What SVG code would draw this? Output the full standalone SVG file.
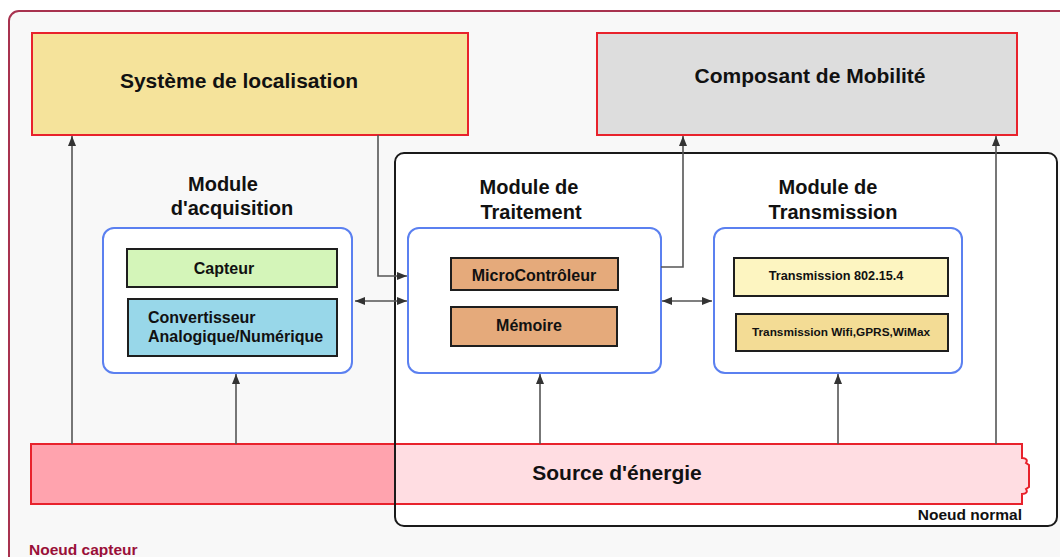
<svg xmlns="http://www.w3.org/2000/svg" width="1060" height="557" viewBox="0 0 1060 557">
  <style>
    .t { font-family: "Liberation Sans", Arial, sans-serif; font-weight: bold; fill: #111; }
    .big { font-size: 21px; }
    .mid { font-size: 20px; }
    .sm { font-size: 16px; }
    .top { stroke: #e8222c; stroke-width: 2; }
    .mod { fill: #ffffff; stroke: #5b80f0; stroke-width: 2; }
    .inner { stroke: #1e1e1e; stroke-width: 2; }
    .conn { fill: none; stroke: #555; stroke-width: 1.6; }
  </style>
  <defs>
    <marker id="ah" viewBox="0 0 10 8" refX="10" refY="4" markerWidth="10" markerHeight="8" markerUnits="userSpaceOnUse" orient="auto-start-reverse">
      <path d="M0,0 L10,4 L0,8 z" fill="#333"/>
    </marker>
    <linearGradient id="energy" gradientUnits="userSpaceOnUse" x1="31" y1="0" x2="1030" y2="0">
      <stop offset="0" stop-color="#ffa3ae"/>
      <stop offset="0.3644" stop-color="#ffa3ae"/>
      <stop offset="0.3644" stop-color="#ffdde2"/>
      <stop offset="1" stop-color="#ffdde2"/>
    </linearGradient>
  </defs>

  <rect width="1060" height="557" fill="#ffffff"/>

  <!-- sensor node frame -->
  <g id="noeud-capteur">
    <rect x="9" y="11" width="1100" height="600" rx="10" fill="#f8f8f8" stroke="#a8324f" stroke-width="2"/>
    <text class="t" x="29" y="555" font-size="15.5" style="fill:#9a1038">Noeud capteur</text>
  </g>

  <!-- normal node frame (fill only; outline drawn later on top) -->
  <rect id="noeud-normal-bg" x="395" y="153" width="662" height="373" rx="9" fill="#ffffff"/>

  <g id="localisation">
    <rect class="top" x="32" y="33" width="436" height="102" fill="#f5e39b"/>
    <text class="t big" x="239" y="88" text-anchor="middle">Système de localisation</text>
  </g>

  <g id="mobilite">
    <rect class="top" x="597" y="33" width="420" height="102" fill="#dddddd"/>
    <text class="t big" x="810" y="83" text-anchor="middle">Composant de Mobilité</text>
  </g>

  <g id="module-acquisition">
    <text class="t mid" x="223" y="191" text-anchor="middle">Module</text>
    <text class="t mid" x="232" y="215" text-anchor="middle">d'acquisition</text>
    <rect class="mod" x="103" y="228" width="249" height="145" rx="11"/>
    <rect class="inner" x="127" y="249" width="210" height="38" fill="#d4f5b9"/>
    <text class="t sm" x="224" y="274" text-anchor="middle">Capteur</text>
    <rect class="inner" x="128" y="299" width="209" height="57" fill="#98d7e9"/>
    <text class="t sm" x="148" y="323">Convertisseur</text>
    <text class="t sm" x="148" y="342">Analogique/Numérique</text>
  </g>

  <g id="module-traitement">
    <text class="t mid" x="529" y="194" text-anchor="middle">Module de</text>
    <text class="t mid" x="531" y="219" text-anchor="middle">Traitement</text>
    <rect class="mod" x="408" y="228" width="253" height="145" rx="11"/>
    <rect class="inner" x="451" y="258" width="167" height="32" fill="#e5aa7b"/>
    <text class="t sm" x="534" y="281" text-anchor="middle">MicroContrôleur</text>
    <rect class="inner" x="451" y="307" width="166" height="39" fill="#e5aa7b"/>
    <text class="t sm" x="529" y="331" text-anchor="middle">Mémoire</text>
  </g>

  <g id="module-transmission">
    <text class="t mid" x="828" y="194" text-anchor="middle">Module de</text>
    <text class="t mid" x="833" y="219" text-anchor="middle">Transmission</text>
    <rect class="mod" x="714" y="228" width="248" height="145" rx="11"/>
    <rect class="inner" x="734" y="258" width="214" height="38" fill="#fdf5c1"/>
    <text class="t" x="836" y="280" font-size="12.7" text-anchor="middle">Transmission 802.15.4</text>
    <rect class="inner" x="736" y="314" width="212" height="37" fill="#f3dc95"/>
    <text class="t" x="841" y="336" font-size="11.8" text-anchor="middle">Transmission Wifi,GPRS,WiMax</text>
  </g>

  <g id="source-energie">
    <path d="M31,444 H1022 V458 C1026,458 1028,460 1026,463 L1029,465 V487 L1026,489 C1028,492 1026,494 1022,494 V504 H31 Z" fill="url(#energy)" stroke="#e8222c" stroke-width="2"/>
    <text class="t big" x="617" y="480" text-anchor="middle">Source d'énergie</text>
  </g>

  <g id="noeud-normal">
    <rect x="395" y="153" width="662" height="373" rx="9" fill="none" stroke="#1a1a1a" stroke-width="2"/>
    <text class="t" x="1022" y="520" font-size="15.5" text-anchor="end">Noeud normal</text>
  </g>

  <g id="connectors">
    <line class="conn" x1="72" y1="444" x2="72" y2="136" marker-end="url(#ah)"/>
    <line class="conn" x1="236" y1="444" x2="236" y2="374" marker-end="url(#ah)"/>
    <line class="conn" x1="540" y1="444" x2="540" y2="374" marker-end="url(#ah)"/>
    <line class="conn" x1="838" y1="444" x2="838" y2="374" marker-end="url(#ah)"/>
    <line class="conn" x1="996" y1="444" x2="996" y2="136" marker-end="url(#ah)"/>
    <polyline class="conn" points="378,135 378,276 407,276" marker-end="url(#ah)"/>
    <line class="conn" x1="355" y1="301" x2="407" y2="301" marker-start="url(#ah)" marker-end="url(#ah)"/>
    <polyline class="conn" points="661,267 683,267 683,136" marker-end="url(#ah)"/>
    <line class="conn" x1="662" y1="301" x2="712" y2="301" marker-start="url(#ah)" marker-end="url(#ah)"/>
  </g>
</svg>
